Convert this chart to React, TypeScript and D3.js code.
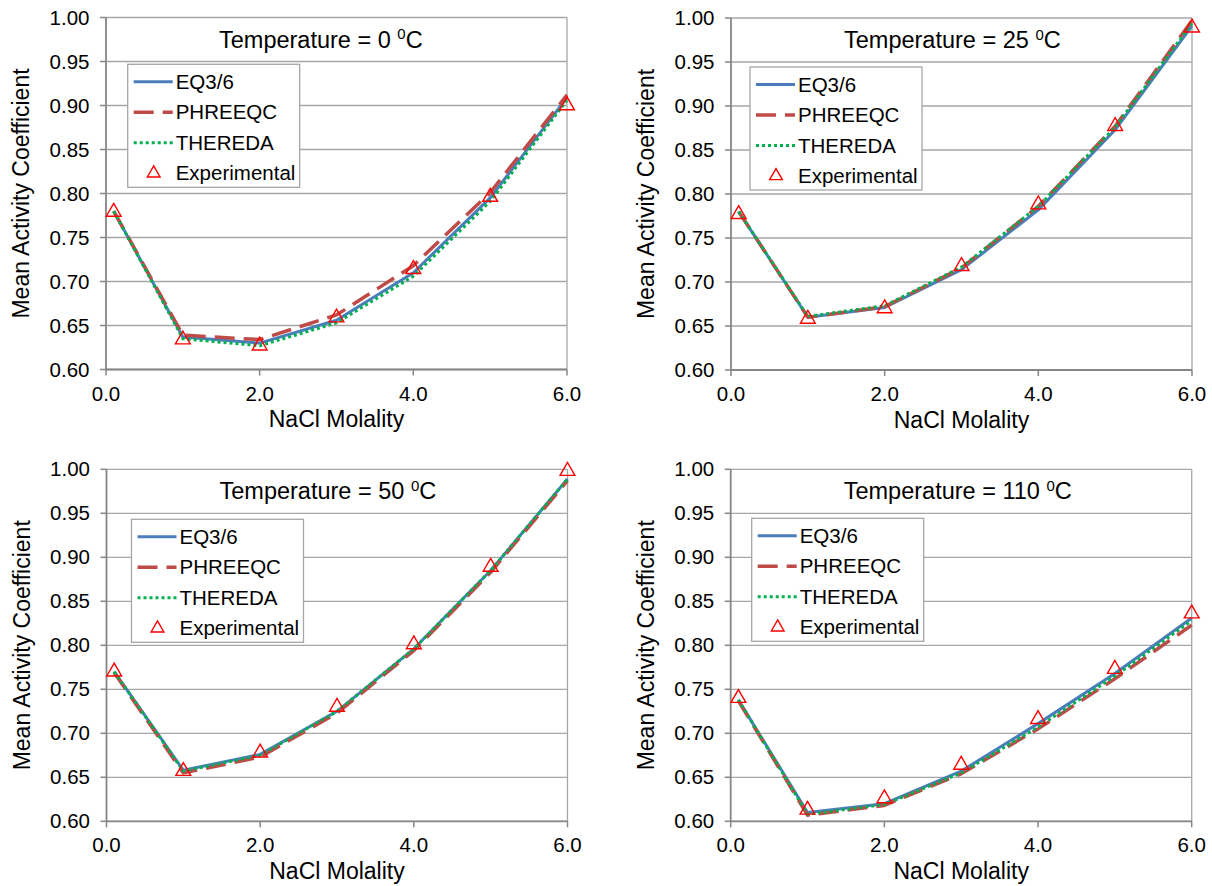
import React from "react";
import * as d3 from "d3";

// NaCl molality at which the models and the measurements are given
const molality = [0.1, 1, 2, 3, 4, 5, 6];
const xTicks = [0, 2, 4, 6];
const yTicks = [0.6, 0.65, 0.7, 0.75, 0.8, 0.85, 0.9, 0.95, 1.0];
const seriesNames = ["EQ3/6", "PHREEQC", "THEREDA", "Experimental"];

// 0 °C
const eq36At0 = [0.780, 0.637, 0.630, 0.656, 0.710, 0.795, 0.909];
const phreeqcAt0 = [0.780, 0.639, 0.634, 0.662, 0.718, 0.801, 0.912];
const theredaAt0 = [0.780, 0.635, 0.627, 0.653, 0.706, 0.791, 0.906];
const expAt0 = [0.779, 0.634, 0.627, 0.659, 0.714, 0.796, 0.900];

// 25 °C
const eq36At25 = [0.780, 0.660, 0.671, 0.714, 0.782, 0.873, 0.991];
const phreeqcAt25 = [0.780, 0.660, 0.672, 0.716, 0.786, 0.877, 0.997];
const theredaAt25 = [0.780, 0.661, 0.673, 0.717, 0.786, 0.876, 0.994];
const expAt25 = [0.777, 0.658, 0.670, 0.718, 0.788, 0.877, 0.989];

// 50 °C
const eq36At50 = [0.770, 0.658, 0.676, 0.725, 0.796, 0.885, 0.989];
const phreeqcAt50 = [0.769, 0.655, 0.673, 0.723, 0.794, 0.883, 0.987];
const theredaAt50 = [0.770, 0.657, 0.675, 0.725, 0.796, 0.885, 0.989];
const expAt50 = [0.770, 0.657, 0.678, 0.730, 0.801, 0.889, 0.998];

// 110 °C
const eq36At110 = [0.738, 0.610, 0.620, 0.657, 0.711, 0.768, 0.831];
const phreeqcAt110 = [0.737, 0.607, 0.618, 0.654, 0.705, 0.762, 0.823];
const theredaAt110 = [0.738, 0.608, 0.619, 0.655, 0.707, 0.765, 0.828];
const expAt110 = [0.740, 0.613, 0.626, 0.664, 0.716, 0.773, 0.836];

const FONT = "'Liberation Sans', Arial, sans-serif";
const W = 461;
const H = 352;

const styles = [
  { color: "#4A7EBB", width: 3, dash: "" },
  { color: "#BE4B48", width: 3.5, dash: "20 9" },
  { color: "#00B050", width: 3, dash: "3 3" },
];

const triangle = d3.symbol(d3.symbolTriangle, 95)();
const legendTriangle = d3.symbol(d3.symbolTriangle, 70)();

type PanelProps = {
  left: number;
  top: number;
  temp: string;
  models: number[][];
  exp: number[];
  legendDx: number;
  legendDy: number;
};

function Panel({ left, top, temp, models, exp, legendDx, legendDy }: PanelProps) {
  const x = d3.scaleLinear().domain([0, 6]).range([0, W]);
  const y = d3.scaleLinear().domain([0.6, 1.0]).range([H, 0]);
  const line = d3
    .line<number>()
    .x((_, i) => x(molality[i]))
    .y((d) => y(d));

  return (
    <g transform={`translate(${left},${top})`} fontFamily={FONT}>
      {/* gridlines + plot border */}
      {yTicks.map((t) => (
        <line key={t} x1={0} x2={W} y1={y(t)} y2={y(t)} stroke="#A6A6A6" strokeWidth={1.3} />
      ))}
      <line x1={W} x2={W} y1={0} y2={H} stroke="#A6A6A6" strokeWidth={1.3} />

      {/* axes */}
      <line x1={0} x2={0} y1={0} y2={H} stroke="#868686" strokeWidth={1.8} />
      <line x1={0} x2={W} y1={H} y2={H} stroke="#868686" strokeWidth={1.8} />
      {yTicks.map((t) => (
        <g key={t}>
          <line x1={-6} x2={0} y1={y(t)} y2={y(t)} stroke="#868686" strokeWidth={1.5} />
          <text x={-16.5} y={y(t)} dy="0.35em" textAnchor="end" fontSize={20.5} fill="#000">
            {d3.format(".2f")(t)}
          </text>
        </g>
      ))}
      {xTicks.map((t) => (
        <g key={t}>
          <line x1={x(t)} x2={x(t)} y1={H} y2={H + 6} stroke="#868686" strokeWidth={1.5} />
          <text x={x(t)} y={H + 31} textAnchor="middle" fontSize={20.5} fill="#000">
            {d3.format(".1f")(t)}
          </text>
        </g>
      ))}
      <text x={W / 2} y={H + 57.5} textAnchor="middle" fontSize={23} fill="#000">
        NaCl Molality
      </text>
      <text
        transform={`translate(-77,${H / 2}) rotate(-90)`}
        textAnchor="middle"
        fontSize={23}
        fill="#000"
      >
        Mean Activity Coefficient
      </text>

      {/* title */}
      <text x={113} y={30} fontSize={23.5} fill="#000">
        Temperature = {temp}{" "}
        <tspan fontSize={15} dy={-8.5}>0</tspan>
        <tspan dy={8.5}>C</tspan>
      </text>

      {/* model curves */}
      {models.map((vals, i) => (
        <path
          key={i}
          d={line(vals) || undefined}
          fill="none"
          stroke={styles[i].color}
          strokeWidth={styles[i].width}
          strokeDasharray={styles[i].dash || undefined}
          strokeLinejoin="round"
        />
      ))}

      {/* measurements */}
      {exp.map((v, i) => (
        <path
          key={i}
          d={triangle || undefined}
          transform={`translate(${x(molality[i])},${y(v)})`}
          fill="none"
          stroke="#FF0000"
          strokeWidth={1.4}
        />
      ))}

      {/* legend */}
      <g transform={`translate(${legendDx},${legendDy})`}>
        <rect x={0} y={0} width={172} height={123} fill="#fff" stroke="#A6A6A6" strokeWidth={1.3} />
        {seriesNames.map((name, i) => {
          const ry = 17.5 + i * 30.5;
          return (
            <g key={name}>
              {i < 3 ? (
                <line
                  x1={6}
                  x2={45}
                  y1={ry}
                  y2={ry}
                  stroke={styles[i].color}
                  strokeWidth={styles[i].width}
                  strokeDasharray={styles[i].dash || undefined}
                />
              ) : (
                <path
                  d={legendTriangle || undefined}
                  transform={`translate(26,${ry})`}
                  fill="none"
                  stroke="#FF0000"
                  strokeWidth={1.4}
                />
              )}
              <text x={48} y={ry} dy="0.35em" fontSize={20.5} fill="#000">
                {name}
              </text>
            </g>
          );
        })}
      </g>
    </g>
  );
}

export default function App() {
  return (
    <svg
      width={1212}
      height={886}
      style={{ position: "absolute", left: 0, top: 0, background: "#fff" }}
    >
      <Panel left={106} top={17.5} temp="0" models={[eq36At0, phreeqcAt0, theredaAt0]} exp={expAt0} legendDx={21.7} legendDy={46.8} />
      <Panel left={731} top={18} temp="25" models={[eq36At25, phreeqcAt25, theredaAt25]} exp={expAt25} legendDx={19} legendDy={49} />
      <Panel left={106.5} top={469.3} temp="50" models={[eq36At50, phreeqcAt50, theredaAt50]} exp={expAt50} legendDx={25} legendDy={50} />
      <Panel left={730.7} top={469.3} temp="110" models={[eq36At110, phreeqcAt110, theredaAt110]} exp={expAt110} legendDx={21} legendDy={49} />
    </svg>
  );
}
